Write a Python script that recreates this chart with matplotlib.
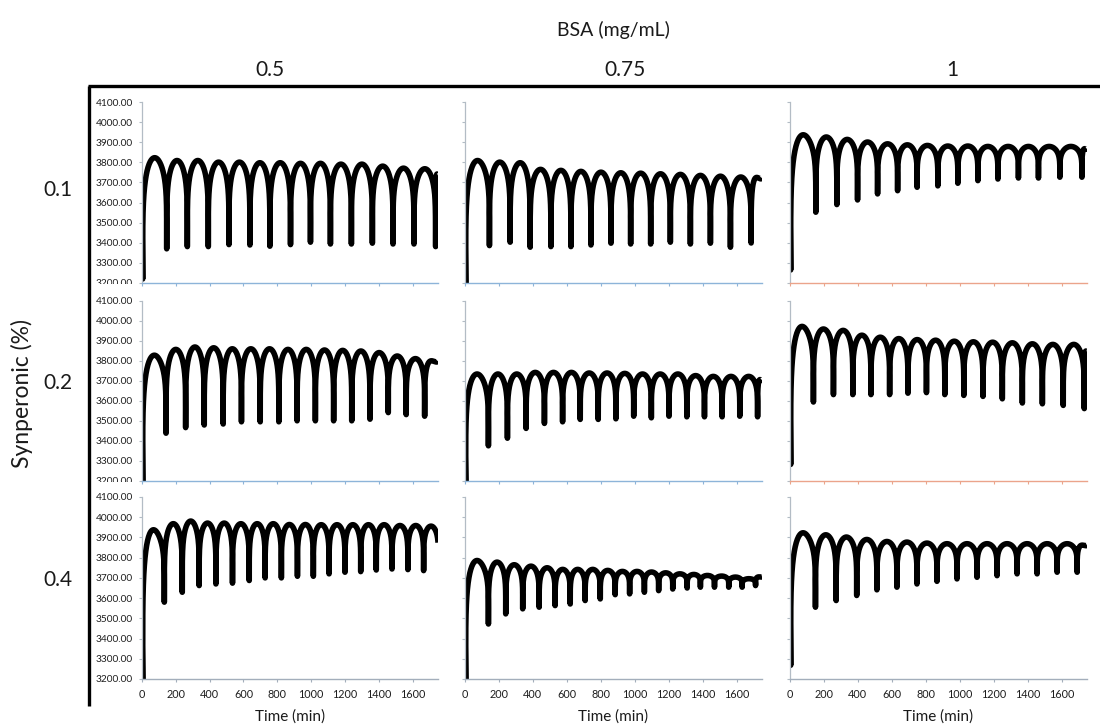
import numpy as np
import matplotlib
matplotlib.use("Agg")
import matplotlib.pyplot as plt
from matplotlib.lines import Line2D
from matplotlib.transforms import Bbox

plt.rcParams['font.family'] = ['Lato', 'DejaVu Sans']

# ---------------------------------------------------------------
# Data: each trace is described by its start (value at t=0 and the
# minimum right after), the times / values of each dip, the value
# of each arch top between dips, and the value at the end of the run.
# ---------------------------------------------------------------
bsa_levels = ["0.5", "0.75", "1"]
synperonic_levels = ["0.1", "0.2", "0.4"]
start_t = [0, 4]
end_t = 1752

# Synperonic 0.1 %, BSA 0.5 mg/mL
r1c1_start = [3526, 3220]
r1c1_dip_t = [146, 268, 392, 514, 638, 756, 878, 996, 1114, 1238, 1362, 1484, 1608, 1736]
r1c1_dip_v = [3370, 3381, 3381, 3391, 3389, 3383, 3391, 3403, 3394, 3394, 3398, 3394, 3394, 3381]
r1c1_peak = [3823, 3809, 3809, 3801, 3801, 3798, 3798, 3795, 3795, 3791, 3791, 3781, 3771, 3768, 3742]
r1c1_end = 3742

# Synperonic 0.1 %, BSA 0.75 mg/mL
r1c2_start = [3465, 3198]
r1c2_dip_t = [144, 266, 384, 506, 624, 742, 860, 976, 1094, 1210, 1328, 1446, 1564, 1686]
r1c2_dip_v = [3386, 3403, 3378, 3381, 3381, 3389, 3398, 3394, 3394, 3403, 3394, 3398, 3378, 3399]
r1c2_peak = [3809, 3801, 3798, 3765, 3760, 3755, 3751, 3748, 3746, 3743, 3740, 3735, 3731, 3727, 3725]
r1c2_end = 3725

# Synperonic 0.1 %, BSA 1 mg/mL
r1c3_start = [3590, 3265]
r1c3_dip_t = [152, 276, 398, 516, 634, 749, 871, 989, 1107, 1225, 1346, 1464, 1590, 1720]
r1c3_dip_v = [3552, 3590, 3613, 3643, 3659, 3676, 3683, 3696, 3709, 3717, 3722, 3722, 3726, 3726]
r1c3_peak = [3937, 3926, 3914, 3901, 3892, 3887, 3884, 3881, 3881, 3879, 3879, 3879, 3879, 3879, 3868]
r1c3_end = 3868

# Synperonic 0.2 %, BSA 0.5 mg/mL
r2c1_start = [3505, 3195]
r2c1_dip_t = [142, 258, 368, 480, 588, 699, 809, 917, 1025, 1133, 1240, 1348, 1456, 1562, 1671]
r2c1_dip_v = [3439, 3467, 3480, 3485, 3496, 3496, 3496, 3501, 3501, 3501, 3501, 3509, 3542, 3532, 3524]
r2c1_peak = [3829, 3858, 3870, 3866, 3861, 3861, 3861, 3858, 3858, 3855, 3853, 3850, 3842, 3825, 3812, 3801]
r2c1_end = 3801

# Synperonic 0.2 %, BSA 0.75 mg/mL
r2c2_start = [3390, 3195]
r2c2_dip_t = [138, 250, 360, 468, 575, 679, 785, 889, 994, 1098, 1202, 1307, 1411, 1515, 1619, 1724]
r2c2_dip_v = [3376, 3414, 3463, 3488, 3496, 3508, 3508, 3511, 3524, 3516, 3524, 3521, 3521, 3521, 3524, 3521]
r2c2_peak = [3735, 3735, 3735, 3743, 3743, 3743, 3740, 3740, 3738, 3735, 3735, 3735, 3727, 3723, 3723, 3723, 3707]
r2c2_end = 3707

# Synperonic 0.2 %, BSA 1 mg/mL
r2c3_start = [3616, 3283]
r2c3_dip_t = [138, 256, 370, 477, 587, 695, 804, 912, 1024, 1137, 1251, 1369, 1487, 1610, 1734]
r2c3_dip_v = [3595, 3632, 3632, 3632, 3632, 3639, 3642, 3632, 3628, 3623, 3611, 3590, 3586, 3578, 3562]
r2c3_peak = [3973, 3960, 3953, 3929, 3919, 3912, 3907, 3904, 3899, 3896, 3894, 3891, 3886, 3883, 3883, 3850]
r2c3_end = 3850

# Synperonic 0.4 %, BSA 0.5 mg/mL
r3c1_start = [3450, 3195]
r3c1_dip_t = [132, 238, 338, 437, 535, 634, 728, 824, 919, 1013, 1106, 1200, 1293, 1385, 1478, 1572, 1665]
r3c1_dip_v = [3580, 3629, 3662, 3670, 3674, 3687, 3700, 3700, 3708, 3708, 3720, 3728, 3731, 3739, 3744, 3741, 3736]
r3c1_peak = [3938, 3968, 3981, 3971, 3971, 3968, 3968, 3968, 3964, 3964, 3963, 3963, 3963, 3963, 3963, 3959, 3959, 3956]
r3c1_end = 3765

# Synperonic 0.4 %, BSA 0.75 mg/mL
r3c2_start = [3445, 3195]
r3c2_dip_t = [138, 240, 340, 437, 531, 620, 708, 797, 885, 970, 1057, 1141, 1224, 1309, 1387, 1470, 1554, 1633, 1712]
r3c2_dip_v = [3472, 3522, 3547, 3555, 3563, 3571, 3588, 3596, 3617, 3621, 3629, 3637, 3645, 3650, 3654, 3654, 3654, 3654, 3662]
r3c2_peak = [3786, 3778, 3765, 3758, 3750, 3742, 3742, 3742, 3737, 3732, 3732, 3729, 3725, 3720, 3717, 3712, 3709, 3704, 3696, 3705]
r3c2_end = 3705

# Synperonic 0.4 %, BSA 1 mg/mL
r3c3_start = [3579, 3268]
r3c3_dip_t = [150, 272, 393, 512, 630, 748, 866, 984, 1102, 1220, 1338, 1456, 1574, 1692]
r3c3_dip_v = [3555, 3588, 3613, 3641, 3654, 3670, 3683, 3695, 3703, 3711, 3720, 3720, 3728, 3728]
r3c3_peak = [3923, 3913, 3902, 3890, 3880, 3877, 3872, 3869, 3869, 3869, 3869, 3869, 3869, 3869, 3862]
r3c3_end = 3862

y_ticks = [3200, 3300, 3400, 3500, 3600, 3700, 3800, 3900, 4000, 4100]
x_ticks = [0, 200, 400, 600, 800, 1000, 1200, 1400, 1600]

traces = [
    [(r1c1_start, r1c1_dip_t, r1c1_dip_v, r1c1_peak, r1c1_end),
     (r1c2_start, r1c2_dip_t, r1c2_dip_v, r1c2_peak, r1c2_end),
     (r1c3_start, r1c3_dip_t, r1c3_dip_v, r1c3_peak, r1c3_end)],
    [(r2c1_start, r2c1_dip_t, r2c1_dip_v, r2c1_peak, r2c1_end),
     (r2c2_start, r2c2_dip_t, r2c2_dip_v, r2c2_peak, r2c2_end),
     (r2c3_start, r2c3_dip_t, r2c3_dip_v, r2c3_peak, r2c3_end)],
    [(r3c1_start, r3c1_dip_t, r3c1_dip_v, r3c1_peak, r3c1_end),
     (r3c2_start, r3c2_dip_t, r3c2_dip_v, r3c2_peak, r3c2_end),
     (r3c3_start, r3c3_dip_t, r3c3_dip_v, r3c3_peak, r3c3_end)],
]


def trace_curve(start, dip_t, dip_v, peaks, end_v, k=0.2, n=90):
    """Join the dips with rounded arches that top out at the given peak values."""
    knot_t = [start_t[1]] + list(dip_t) + [end_t]
    knot_v = [start[1]] + list(dip_v) + [end_v]
    s = np.linspace(0.0, 1.0, n)
    u = (1.0 - np.cos(np.pi * s)) / 2.0
    ts, vs = [np.array([start_t[0]], float)], [np.array([start[0]], float)]
    for i, p in enumerate(peaks):
        a, b = knot_t[i], knot_t[i + 1]
        va, vb = knot_v[i], knot_v[i + 1]
        base = va + (vb - va) * u
        ts.append(a + (b - a) * u)
        vs.append(base + (p - base) * np.sin(np.pi * u) ** k)
    return np.concatenate(ts), np.concatenate(vs)


# ---------------------------------------------------------------
# Figure layout (pixel geometry on a 1100 x 726 canvas)
# ---------------------------------------------------------------
W, H = 1100, 726
fig = plt.figure(figsize=(W / 100, H / 100), dpi=100)
fig.patch.set_facecolor('white')


def fx(x):
    return x / W


def fy(y):
    return 1 - y / H


col_px = [(142, 438), (465, 762), (790, 1087)]
row_px = [(102, 283), (301, 481), (497, 679)]
header_x = [270, 625, 952]
row_label_y = [190, 383, 580]
y_spine = '#b3bcc5'
bottom_colors = [['#8db4d9', '#8db4d9', '#eba48b'],
                 ['#8db4d9', '#8db4d9', '#eba48b'],
                 ['#a3aebb', '#a3aebb', '#a3aebb']]

for r in range(3):
    for c in range(3):
        x0, x1 = col_px[c]
        y0, y1 = row_px[r]
        ax = fig.add_axes([fx(x0), fy(y1), (x1 - x0) / W, (y1 - y0) / H])
        ax.patch.set_alpha(0)
        ax.set_xlim(0, 1750)
        ax.set_ylim(3200, 4100)
        for side in ('top', 'right'):
            ax.spines[side].set_visible(False)
        ax.spines['left'].set_color(y_spine)
        ax.spines['left'].set_linewidth(0.9)
        ax.spines['bottom'].set_color(bottom_colors[r][c])
        ax.spines['bottom'].set_linewidth(1.0)

        t, v = trace_curve(*traces[r][c])
        ax.plot(t, v, color='black', lw=4.0, solid_joinstyle='round',
                solid_capstyle='butt')

        ax.set_yticks(y_ticks)
        ax.set_xticks(x_ticks)
        ax.tick_params(axis='y', direction='out', length=2.5, width=0.8,
                       color=y_spine, labelsize=7.3, pad=4.0, labelcolor='#1e1e1e')
        ax.tick_params(axis='x', direction='out', length=2.5, width=0.8,
                       color=bottom_colors[r][c], labelsize=7.8, pad=4.5,
                       labelcolor='#1e1e1e')
        if c == 0:
            ax.set_yticklabels([f"{y:.2f}" for y in y_ticks])
            if r < 2:
                # the lowest label is cut by the panel underneath
                lab = ax.get_yticklabels()[0]
                lab.set_clip_on(True)
                lab.set_clip_box(Bbox([[0, H - (y1 + 0.5)], [W, H]]))
        else:
            ax.set_yticklabels([])
        if r == 2:
            ax.set_xticklabels([str(x) for x in x_ticks])
            fig.text(fx((x0 + x1) / 2), fy(717), 'Time (min)', ha='center',
                     va='center', fontsize=11, color='#1a1a1a')
        else:
            ax.set_xticklabels([])

# outer bracket lines
fig.add_artist(Line2D([fx(89), fx(89)], [fy(86), fy(706)], color='black',
                      lw=2.4, solid_capstyle='butt'))
fig.add_artist(Line2D([fx(88), fx(1100)], [fy(86), fy(86)], color='black',
                      lw=2.4, solid_capstyle='butt'))

# headers
fig.text(fx(613), fy(30), 'BSA (mg/mL)', ha='center', va='center',
         fontsize=14, color='#1a1a1a')
for c, lab in enumerate(bsa_levels):
    fig.text(fx(header_x[c]), fy(70), lab, ha='center', va='center',
             fontsize=15, color='#1a1a1a')
for r, lab in enumerate(synperonic_levels):
    fig.text(fx(58), fy(row_label_y[r]), lab, ha='center', va='center',
             fontsize=15, color='#1a1a1a')
fig.text(fx(22), fy(393), 'Synperonic (%)', ha='center', va='center',
         rotation=90, fontsize=16.5, color='#1a1a1a')

fig.savefig('out.png', dpi=100, facecolor='white')
